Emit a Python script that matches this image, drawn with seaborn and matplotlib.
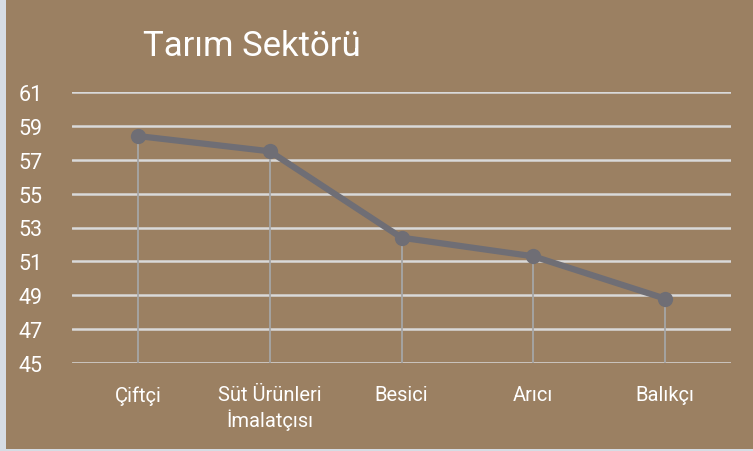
import matplotlib
matplotlib.use("Agg")
import matplotlib.pyplot as plt
import seaborn as sns
import pandas as pd

# data
categories = ["Çiftçi", "Süt Ürünleri\nİmalatçısı", "Besici", "Arıcı", "Balıkçı"]
values = [58.4, 57.5, 52.4, 51.3, 48.8]
y_ticks = [45, 47, 49, 51, 53, 55, 57, 59, 61]

bg = "#9B8062"
line_col = "#6F6E75"
grid_col = "#D9D9D9"
drop_col = "#A6A6A6"

sns.set_theme(style="white")
plt.rcParams["font.family"] = ["Roboto", "DejaVu Sans"]

df = pd.DataFrame({"cat": categories, "val": values})
df["pos"] = range(len(df))

fig = plt.figure(figsize=(7.53, 4.52), dpi=100)
fig.patch.set_facecolor("#D6DCE4")
# brown panel leaving a thin light border on the left and bottom
panel = plt.Rectangle((6 / 753, 2 / 452), 1, 1, transform=fig.transFigure,
                      facecolor=bg, edgecolor="none", zorder=-5)
fig.patches.append(panel)

ax = fig.add_axes([72 / 753, 1 - 364 / 452, 659 / 753, 271 / 452])
ax.set_facecolor("none")
ax.set_zorder(2)

for t in y_ticks:
    ax.axhline(t, color=grid_col, lw=1.8, zorder=1)

# drop lines from each point down to the axis
ax.vlines(df["pos"], y_ticks[0], df["val"], color=drop_col, lw=1.3, zorder=2)

sns.lineplot(data=df, x="pos", y="val", ax=ax, color=line_col, lw=4.5,
             marker="o", markersize=11, markeredgewidth=0, zorder=3)

ax.set_xlim(-0.5, len(categories) - 0.5)
ax.set_ylim(y_ticks[0], y_ticks[-1])
ax.set_yticks(y_ticks)
ax.set_yticklabels([str(t) for t in y_ticks])
ax.set_xticks(df["pos"])
ax.set_xticklabels(categories, linespacing=1.25)
ax.tick_params(axis="y", labelsize=15.5, labelcolor="white", length=0, pad=21)
ax.tick_params(axis="x", labelsize=14.5, labelcolor="white", length=0, pad=16)
ax.set_xlabel("")
ax.set_ylabel("")
for s in ax.spines.values():
    s.set_visible(False)

fig.text(143 / 753, 1 - 56 / 452, "Tarım Sektörü", color="white", fontsize=25,
         ha="left", va="baseline", zorder=3)

fig.savefig("out.png", dpi=100, facecolor=fig.get_facecolor())
